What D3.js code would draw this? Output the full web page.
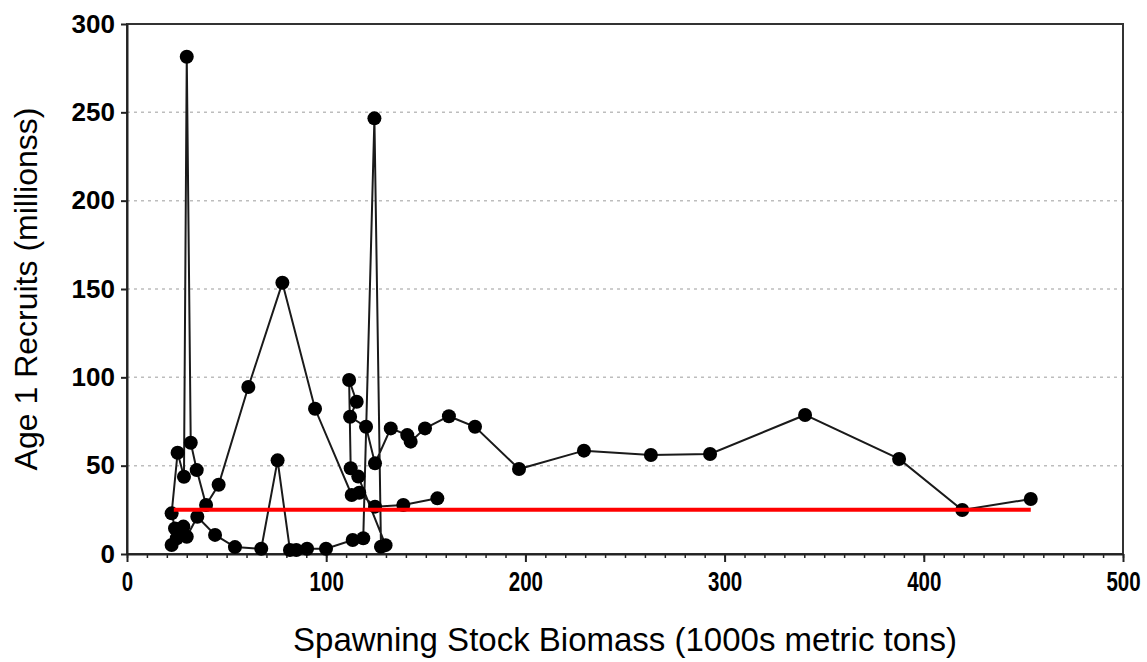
<!DOCTYPE html>
<html>
<head>
<meta charset="UTF-8">
<title>Stock Recruitment</title>
<script src="https://d3js.org/d3.v7.min.js"></script>
<style>
 body { margin: 0; background: #fff; }
 svg text { font-family: "Liberation Sans", Arial, sans-serif; fill: #000; }
</style>
</head>
<body>
<script>
// spawning stock biomass (1000s t) and age 1 recruits (millions), in path order
var ssb = [155.8, 138.7, 124.5, 116.6, 112.8, 94.4, 78.0, 60.9, 46.0, 39.7,
           35.0, 32.0, 30.0, 28.6, 25.4, 22.4, 24.1, 22.4, 25.0, 28.3,
           30.0, 35.3, 44.2, 54.2, 67.4, 75.6, 81.8, 85.0, 90.4, 99.9,
           113.3, 118.6, 124.2, 127.5, 129.8, 116.1, 112.3, 111.5, 115.3, 112.0,
           120.0, 124.5, 132.4, 140.7, 142.4, 149.6, 161.6, 174.7, 196.8, 229.4,
           263.0, 292.7, 340.4, 387.6, 419.3, 453.7];
var recruits = [31.5, 27.7, 26.8, 34.7, 33.4, 82.2, 153.5, 94.5, 39.2, 27.7,
                47.5, 63.0, 281.5, 43.7, 57.3, 23.0, 14.5, 5.1, 8.9, 15.5,
                9.8, 21.1, 10.8, 3.9, 3.0, 53.0, 2.3, 2.3, 3.0, 3.0,
                7.9, 8.9, 246.6, 4.1, 5.0, 43.8, 48.5, 98.5, 86.2, 77.7,
                72.0, 51.3, 71.1, 67.3, 63.6, 71.1, 78.0, 72.0, 48.1, 58.5,
                56.0, 56.6, 78.7, 53.8, 24.9, 31.1];
// red reference line
var refX = [23.5, 453.7];
var refY = [25, 25];

var xTicks = [0, 100, 200, 300, 400, 500];
var yTicks = [0, 50, 100, 150, 200, 250, 300];
var gridY = [50, 100, 150, 200, 250];

var W = 1147, H = 662;
var pLeft = 127, pRight = 1123, pTop = 24, pBottom = 554;

var svg = d3.select('body').append('svg')
    .attr('width', W)
    .attr('height', H);

var x = d3.scaleLinear().domain([0, 500]).range([pLeft, pRight]);
var y = d3.scaleLinear().domain([0, 300]).range([pBottom, pTop]);

// dotted gridlines
svg.append('g').selectAll('line')
    .data(gridY)
    .enter()
    .append('line')
    .attr('x1', pLeft).attr('x2', pRight)
    .attr('y1', function (d) { return y(d); })
    .attr('y2', function (d) { return y(d); })
    .attr('stroke', '#bdbdbd')
    .attr('stroke-width', 1.5)
    .attr('stroke-dasharray', '3,4');

// frame
svg.append('rect')
    .attr('x', pLeft).attr('y', pTop)
    .attr('width', pRight - pLeft).attr('height', pBottom - pTop)
    .attr('fill', 'none')
    .attr('stroke', '#333')
    .attr('stroke-width', 2);

// x minor ticks
var xMinor = svg.append('g')
    .attr('transform', 'translate(0,' + pBottom + ')')
    .call(d3.axisBottom(x).tickValues(d3.range(0, 501, 10)).tickSize(4).tickFormat(''));
xMinor.select('.domain').remove();
xMinor.selectAll('line').attr('stroke', '#222').attr('stroke-width', 1.5);

// x axis
var xAxis = svg.append('g')
    .attr('transform', 'translate(0,' + pBottom + ')')
    .call(d3.axisBottom(x).tickValues(xTicks).tickSize(8).tickPadding(10).tickSizeOuter(0));
xAxis.selectAll('text')
    .attr('font-size', 27)
    .attr('font-weight', 'bold')
    .attr('transform', 'scale(0.76,1)');
xAxis.selectAll('line, path').attr('stroke', '#222').attr('stroke-width', 2);

// y axis
var yAxis = svg.append('g')
    .attr('transform', 'translate(' + pLeft + ',0)')
    .call(d3.axisLeft(y).tickValues(yTicks).tickSize(6).tickPadding(6).tickSizeOuter(0));
yAxis.selectAll('text')
    .attr('font-size', 26)
    .attr('font-weight', 'bold');
yAxis.selectAll('line, path').attr('stroke', '#222').attr('stroke-width', 2);

var pts = ssb.map(function (d, i) { return [d, recruits[i]]; });

// connecting line
var line = d3.line()
    .x(function (d) { return x(d[0]); })
    .y(function (d) { return y(d[1]); });

svg.append('path')
    .datum(pts)
    .attr('d', line)
    .attr('fill', 'none')
    .attr('stroke', '#1a1a1a')
    .attr('stroke-width', 2);

// markers
svg.append('g').selectAll('circle')
    .data(pts)
    .enter()
    .append('circle')
    .attr('cx', function (d) { return x(d[0]); })
    .attr('cy', function (d) { return y(d[1]); })
    .attr('r', 7)
    .attr('fill', '#000');

// red reference line
svg.append('path')
    .datum(refX.map(function (d, i) { return [d, refY[i]]; }))
    .attr('d', line)
    .attr('fill', 'none')
    .attr('stroke', '#ff0000')
    .attr('stroke-width', 4);

// axis titles
svg.append('text')
    .attr('x', (pLeft + pRight) / 2)
    .attr('y', 651)
    .attr('text-anchor', 'middle')
    .attr('font-size', 33)
    .text('Spawning Stock Biomass (1000s metric tons)');

svg.append('text')
    .attr('transform', 'translate(37,' + ((pTop + pBottom) / 2) + ') rotate(-90)')
    .attr('text-anchor', 'middle')
    .attr('font-size', 32)
    .text('Age 1 Recruits (millionss)');
</script>
</body>
</html>
